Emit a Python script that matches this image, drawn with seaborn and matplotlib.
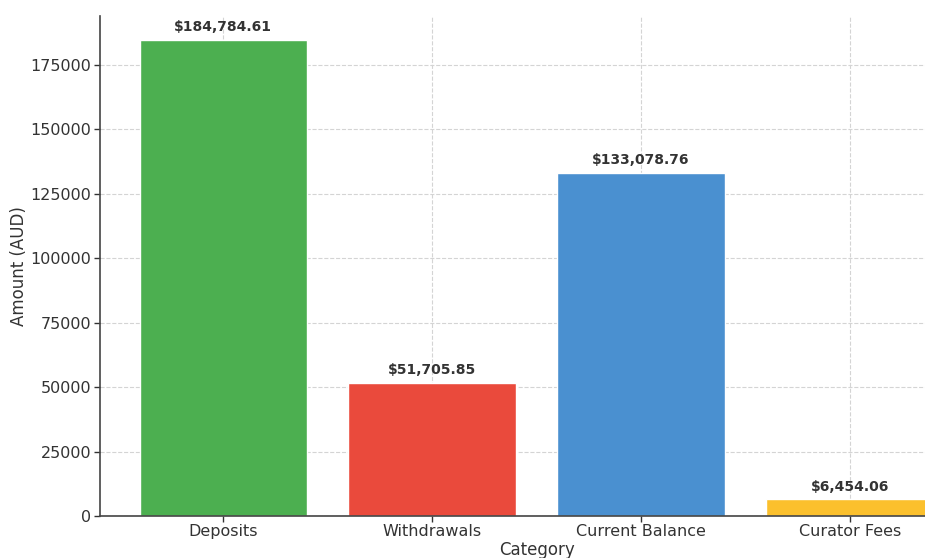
import matplotlib
matplotlib.use("Agg")
import matplotlib.pyplot as plt
import seaborn as sns
import pandas as pd

categories = ["Deposits", "Withdrawals", "Current Balance", "Curator Fees"]
amounts = [184784.61, 51705.85, 133078.76, 6454.06]
colors = ["#4caf50", "#ea4a3c", "#4a90d0", "#fbc02d"]

df = pd.DataFrame({"Category": categories, "Amount": amounts})

sns.set_style("whitegrid", {"grid.linestyle": "--", "grid.color": "#d4d4d4",
                            "axes.edgecolor": "#333333"})
plt.rcParams['font.family'] = ['DejaVu Sans']

fig = plt.figure(figsize=(9.25, 5.58), dpi=100)
ax = fig.add_axes([0.108, 0.0753, 0.944, 0.896])
sns.barplot(data=df, x="Category", y="Amount", hue="Category",
            palette=colors, legend=False, ax=ax, width=0.8, saturation=1)
ax.set_ylim(0, 194000)
ax.set_xlim(-0.59, 3.59)
ax.set_yticks(range(0, 175001, 25000))
ax.grid(True, axis="both", linestyle="--", color="#d4d4d4", linewidth=0.8)
ax.tick_params(axis="both", labelsize=11.5, colors="#333333", length=4, width=1,
               left=True, bottom=True, pad=2)
ax.set_xlabel("Category", fontsize=12, color="#333333", labelpad=1)
ax.set_ylabel("Amount (AUD)", fontsize=12, color="#333333", labelpad=2)
for s in ["top", "right"]:
    ax.spines[s].set_visible(False)
for s in ["left", "bottom"]:
    ax.spines[s].set_color("#444444")
    ax.spines[s].set_linewidth(1.2)
ax.set_axisbelow(True)

for i, v in enumerate(amounts):
    ax.annotate(f"${v:,.2f}", (i, v), xytext=(0, 4), textcoords="offset points",
                ha="center", va="bottom", fontsize=10, fontweight="bold", color="#333333")

fig.savefig("out.png", dpi=100)
